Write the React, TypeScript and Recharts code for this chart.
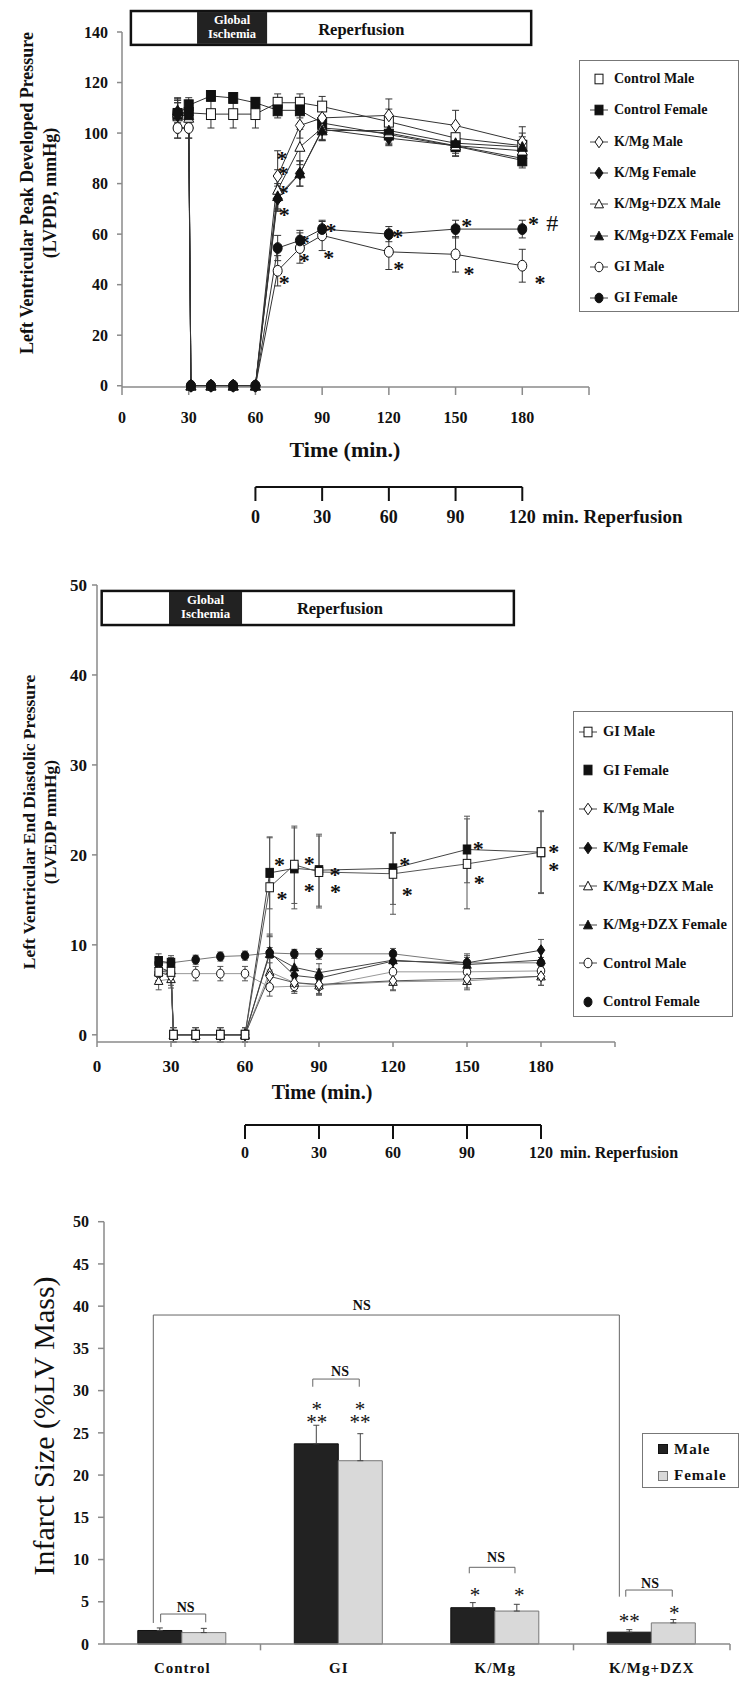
import React from "react";
import {
  ComposedChart,
  Line,
  Bar,
  XAxis,
  YAxis,
  ErrorBar,
  ReferenceArea,
  ReferenceDot,
  ReferenceLine,
} from "recharts";

const SERIF = '"Liberation Serif", "Times New Roman", serif';
const INK = "#111";
const AXIS = "#8a8a8a";

// time points (min.)
const TIME_CONTROL = [25, 30, 40, 50, 60, 70, 80, 90, 120, 150, 180];
const TIME_ISCHEMIA = [25, 30, 31, 40, 50, 60, 70, 80, 90, 120, 150, 180];
const TIME_TICKS = [0, 30, 60, 90, 120, 150, 180, 210];
const REPERFUSION_TICKS = [0, 30, 60, 90, 120];
const REPERFUSION_SPAN = [
  { r: 0, v: 0 },
  { r: 120, v: 0 },
];

// ---- LVPDP (mmHg) ----
const LVPDP_TICKS = [0, 20, 40, 60, 80, 100, 120, 140];
const LVPDP_CONTROL_MALE = [107, 108, 107.5, 107.5, 107.5, 112, 112, 110.5, 104.5, 98, 95];
const LVPDP_CONTROL_MALE_SEM = [6, 5, 5.5, 5.5, 5.5, 3.5, 3.5, 4, 5, 5, 5];
const LVPDP_CONTROL_FEMALE = [107.6, 111, 114.7, 113.9, 112, 109, 109, 104, 99.4, 94.8, 89.2];
const LVPDP_CONTROL_FEMALE_SEM = [6, 3, 2, 2, 2, 3, 3, 3, 4, 4, 3];
const LVPDP_KMG_MALE = [102, 102, 0, 0, 0, 0, 83, 103, 106, 107, 103, 96.5];
const LVPDP_KMG_MALE_SEM = [4, 4, 0.5, 0.5, 0.5, 0.5, 10, 5, 5, 6.5, 6, 6];
const LVPDP_KMG_FEMALE = [107, 107, 0, 0, 0, 0, 74, 84, 101.5, 98, 95, 90];
const LVPDP_KMG_FEMALE_SEM = [5, 5, 0.5, 0.5, 0.5, 0.5, 5, 5, 4, 3, 3, 3];
const LVPDP_DZX_MALE = [108, 106, 0, 0, 0, 0, 77.5, 94.5, 102, 100, 95, 93];
const LVPDP_DZX_MALE_SEM = [5, 5, 0.5, 0.5, 0.5, 0.5, 8, 7, 5, 4, 4, 4];
const LVPDP_DZX_FEMALE = [109, 107, 0, 0, 0, 0, 75, 84, 101, 101, 96, 94.5];
const LVPDP_DZX_FEMALE_SEM = [5, 5, 0.5, 0.5, 0.5, 0.5, 5, 5, 4, 3, 3, 4];
const LVPDP_GI_MALE = [102, 102, 0, 0, 0, 0, 45.5, 54.5, 59.5, 53, 52, 47.5];
const LVPDP_GI_MALE_SEM = [4, 4, 0.5, 0.5, 0.5, 0.5, 6, 6, 6, 7, 7, 6.5];
const LVPDP_GI_FEMALE = [108, 108, 0, 0, 0, 0, 54.5, 57.5, 62, 60, 62, 62];
const LVPDP_GI_FEMALE_SEM = [4, 4, 0.5, 0.5, 0.5, 0.5, 5, 4, 3, 3, 3.5, 3.5];
const LVPDP_MARKS = [
  { t: 72, v: 91, s: "*" }, { t: 72.5, v: 85, s: "*" }, { t: 72.5, v: 77.5, s: "*" },
  { t: 73, v: 69, s: "*" }, { t: 73, v: 42, s: "*" }, { t: 82, v: 58, s: "*" },
  { t: 82, v: 50.5, s: "*" }, { t: 93, v: 52, s: "*" }, { t: 94, v: 62.5, s: "*" },
  { t: 124, v: 60, s: "*" }, { t: 124.5, v: 47.5, s: "*" }, { t: 155, v: 64.5, s: "*" },
  { t: 156, v: 45.5, s: "*" }, { t: 185, v: 65.5, s: "*" }, { t: 193.5, v: 64.5, s: "#" },
  { t: 188, v: 42, s: "*" },
];

// ---- LVEDP (mmHg) ----
const LVEDP_TICKS = [0, 10, 20, 30, 40, 50];
const LVEDP_GI_MALE = [7, 7, 0, 0, 0, 0, 16.4, 18.9, 18.1, 17.9, 19, 20.3];
const LVEDP_GI_MALE_SEM = [1, 1, 0.8, 0.8, 0.8, 0.8, 5.5, 4.3, 4, 4.5, 5, 4.5];
const LVEDP_GI_FEMALE = [8.2, 8, 0, 0, 0, 0, 18, 18.5, 18.3, 18.5, 20.6, 20.3];
const LVEDP_GI_FEMALE_SEM = [0.8, 0.8, 0.8, 0.8, 0.8, 0.8, 4, 4.5, 4, 4, 3.7, 4.6];
const LVEDP_KMG_MALE = [7, 6.5, 0, 0, 0, 0, 6.5, 5.8, 5.6, 6, 6.2, 6.5];
const LVEDP_KMG_MALE_SEM = [1, 1, 0.8, 0.8, 0.8, 0.8, 1.5, 1, 1, 1, 1, 1];
const LVEDP_KMG_FEMALE = [7.5, 7, 0, 0, 0, 0, 9.2, 6.6, 6.3, 8.2, 8, 9.4];
const LVEDP_KMG_FEMALE_SEM = [1, 1, 0.8, 0.8, 0.8, 0.8, 2, 1, 1, 1, 1, 1.2];
const LVEDP_DZX_MALE = [6, 6.2, 0, 0, 0, 0, 7, 5.8, 5.5, 5.9, 6, 6.5];
const LVEDP_DZX_MALE_SEM = [1, 1, 0.8, 0.8, 0.8, 0.8, 1.5, 1, 1, 1, 1, 1];
const LVEDP_DZX_FEMALE = [7, 7.2, 0, 0, 0, 0, 9, 7.5, 6.9, 8.3, 7.8, 8.3];
const LVEDP_DZX_FEMALE_SEM = [1, 1, 0.8, 0.8, 0.8, 0.8, 2, 1, 1, 1, 1, 1];
const LVEDP_CONTROL_MALE = [6.8, 6.8, 6.8, 6.8, 6.8, 5.3, 5.4, 5.4, 7, 7, 7.1];
const LVEDP_CONTROL_MALE_SEM = [0.8, 0.8, 0.8, 0.8, 0.8, 1, 0.8, 1, 1, 1, 0.8];
const LVEDP_CONTROL_FEMALE = [8, 8, 8.35, 8.7, 8.8, 9.1, 9, 9, 9, 8, 8];
const LVEDP_CONTROL_FEMALE_SEM = [0.6, 0.6, 0.5, 0.5, 0.5, 0.6, 0.5, 0.6, 0.6, 0.6, 0.6];
const LVEDP_MARKS = [
  { t: 74, v: 19.3, s: "*" }, { t: 75, v: 15.5, s: "*" }, { t: 86, v: 19.4, s: "*" },
  { t: 86, v: 16.4, s: "*" }, { t: 96.5, v: 18.1, s: "*" }, { t: 96.7, v: 16.3, s: "*" },
  { t: 124.8, v: 19.2, s: "*" }, { t: 125.8, v: 15.9, s: "*" }, { t: 154.6, v: 21, s: "*" },
  { t: 155, v: 17.3, s: "*" }, { t: 185.2, v: 20.7, s: "*" }, { t: 185.2, v: 18.7, s: "*" },
];

// ---- Infarct size (% LV mass) ----
const GROUPS = ["Control", "GI", "K/Mg", "K/Mg+DZX"];
const INFARCT_MALE = [1.6, 23.7, 4.3, 1.4];
const INFARCT_MALE_SEM = [0.3, 2.2, 0.6, 0.3];
const INFARCT_FEMALE = [1.35, 21.7, 3.9, 2.5];
const INFARCT_FEMALE_SEM = [0.5, 3.2, 0.8, 0.4];
const INFARCT_TICKS = [0, 5, 10, 15, 20, 25, 30, 35, 40, 45, 50];
// brackets on a 0..4 group scale
const INFARCT_BRACKETS = [
  { x1: 0.315, x2: 3.293, top: 38.95, left: 2.49, right: 5.6 },
  { x1: 0.362, x2: 0.65, top: 3.55, left: 2.57, right: 2.57 },
  { x1: 1.334, x2: 1.631, top: 31.37, left: 30.46, right: 30.46 },
  { x1: 2.334, x2: 2.626, top: 9.08, left: 8.37, right: 8.37 },
  { x1: 3.334, x2: 3.631, top: 6.39, left: 5.6, right: 5.6 },
];
const INFARCT_NS = [
  { x: 1.647, v: 40.05 }, { x: 0.522, v: 4.3 }, { x: 1.508, v: 32.3 },
  { x: 2.505, v: 10.27 }, { x: 3.489, v: 7.19 },
];
const INFARCT_MARKS = [
  { x: 1.359, v: 28.2, s: "*" }, { x: 1.359, v: 26.6, s: "**" },
  { x: 1.636, v: 28.2, s: "*" }, { x: 1.636, v: 26.6, s: "**" },
  { x: 2.371, v: 6.12, s: "*" }, { x: 2.654, v: 6.12, s: "*" },
  { x: 3.356, v: 3.04, s: "**" }, { x: 3.644, v: 4.03, s: "*" },
];
const INFARCT_GROUP_TICKS = [1, 3, 4];

type Shape = "square" | "diamond" | "triangle" | "circle";

interface SeriesDef {
  name: string;
  t: number[];
  v: number[];
  e: number[];
  shape: Shape;
  filled: boolean;
  legendLine: boolean;
  color: string;
}

const SERIES_A: SeriesDef[] = [
  { name: "Control Male", t: TIME_CONTROL, v: LVPDP_CONTROL_MALE, e: LVPDP_CONTROL_MALE_SEM, shape: "square", filled: false, legendLine: false, color: "#333" },
  { name: "Control Female", t: TIME_CONTROL, v: LVPDP_CONTROL_FEMALE, e: LVPDP_CONTROL_FEMALE_SEM, shape: "square", filled: true, legendLine: true, color: "#333" },
  { name: "K/Mg Male", t: TIME_ISCHEMIA, v: LVPDP_KMG_MALE, e: LVPDP_KMG_MALE_SEM, shape: "diamond", filled: false, legendLine: true, color: "#333" },
  { name: "K/Mg Female", t: TIME_ISCHEMIA, v: LVPDP_KMG_FEMALE, e: LVPDP_KMG_FEMALE_SEM, shape: "diamond", filled: true, legendLine: true, color: "#333" },
  { name: "K/Mg+DZX Male", t: TIME_ISCHEMIA, v: LVPDP_DZX_MALE, e: LVPDP_DZX_MALE_SEM, shape: "triangle", filled: false, legendLine: true, color: "#333" },
  { name: "K/Mg+DZX Female", t: TIME_ISCHEMIA, v: LVPDP_DZX_FEMALE, e: LVPDP_DZX_FEMALE_SEM, shape: "triangle", filled: true, legendLine: true, color: "#333" },
  { name: "GI Male", t: TIME_ISCHEMIA, v: LVPDP_GI_MALE, e: LVPDP_GI_MALE_SEM, shape: "circle", filled: false, legendLine: true, color: "#333" },
  { name: "GI Female", t: TIME_ISCHEMIA, v: LVPDP_GI_FEMALE, e: LVPDP_GI_FEMALE_SEM, shape: "circle", filled: true, legendLine: true, color: "#333" },
];

const SERIES_B: SeriesDef[] = [
  { name: "GI Male", t: TIME_ISCHEMIA, v: LVEDP_GI_MALE, e: LVEDP_GI_MALE_SEM, shape: "square", filled: false, legendLine: true, color: "#555" },
  { name: "GI Female", t: TIME_ISCHEMIA, v: LVEDP_GI_FEMALE, e: LVEDP_GI_FEMALE_SEM, shape: "square", filled: true, legendLine: false, color: "#444" },
  { name: "K/Mg Male", t: TIME_ISCHEMIA, v: LVEDP_KMG_MALE, e: LVEDP_KMG_MALE_SEM, shape: "diamond", filled: false, legendLine: true, color: "#555" },
  { name: "K/Mg Female", t: TIME_ISCHEMIA, v: LVEDP_KMG_FEMALE, e: LVEDP_KMG_FEMALE_SEM, shape: "diamond", filled: true, legendLine: true, color: "#444" },
  { name: "K/Mg+DZX Male", t: TIME_ISCHEMIA, v: LVEDP_DZX_MALE, e: LVEDP_DZX_MALE_SEM, shape: "triangle", filled: false, legendLine: true, color: "#999" },
  { name: "K/Mg+DZX Female", t: TIME_ISCHEMIA, v: LVEDP_DZX_FEMALE, e: LVEDP_DZX_FEMALE_SEM, shape: "triangle", filled: true, legendLine: true, color: "#444" },
  { name: "Control Male", t: TIME_CONTROL, v: LVEDP_CONTROL_MALE, e: LVEDP_CONTROL_MALE_SEM, shape: "circle", filled: false, legendLine: true, color: "#999" },
  { name: "Control Female", t: TIME_CONTROL, v: LVEDP_CONTROL_FEMALE, e: LVEDP_CONTROL_FEMALE_SEM, shape: "circle", filled: true, legendLine: false, color: "#777" },
];

const INFARCT_DATA = GROUPS.map((g, i) => ({
  group: g,
  pos: i + 0.5,
  male: INFARCT_MALE[i],
  maleErr: [0, INFARCT_MALE_SEM[i]],
  female: INFARCT_FEMALE[i],
  femaleErr: [0, INFARCT_FEMALE_SEM[i]],
}));

const points = (s: SeriesDef) => s.t.map((t, i) => ({ t, v: s.v[i], e: s.e[i] }));

function drawMarker(shape: Shape, filled: boolean, s: number, cx: number, cy: number, key?: React.Key) {
  const fill = filled ? INK : "#fff";
  const w = s / 2;
  const h = s * 0.6;
  if (shape === "square")
    return <rect key={key} x={cx - w} y={cy - h} width={s} height={2 * h} fill={fill} stroke={INK} strokeWidth={1} />;
  if (shape === "diamond")
    return (
      <polygon key={key} points={`${cx},${cy - h - 1} ${cx + w},${cy} ${cx},${cy + h + 1} ${cx - w},${cy}`} fill={fill} stroke={INK} strokeWidth={1} />
    );
  if (shape === "triangle")
    return (
      <polygon key={key} points={`${cx},${cy - h} ${cx + w + 0.5},${cy + h * 0.8} ${cx - w - 0.5},${cy + h * 0.8}`} fill={fill} stroke={INK} strokeWidth={1} />
    );
  return <ellipse key={key} cx={cx} cy={cy} rx={w} ry={h} fill={fill} stroke={INK} strokeWidth={1} />;
}

const textMark = (txt: string, fs: number, weight: number) => (p: any) => {
  const shift = txt === "#" ? 0.34 : txt === "NS" ? 0.33 : 0.47;
  return (
    <text x={p.cx} y={p.cy + fs * shift} textAnchor="middle" fontSize={fs} fontWeight={weight} fontFamily={SERIF} fill={INK}>
      {txt}
    </text>
  );
};

const timeTick = (fs: number) => (p: any) => {
  if (p.payload.value === 210) return <g />;
  return (
    <text x={p.x} y={p.y} dy="0.71em" textAnchor="middle" fontSize={fs} fontWeight={700} fontFamily={SERIF} fill={INK}>
      {p.payload.value}
    </text>
  );
};

function Centered({ x, y, size, weight = 700, rotate = false, children }: any) {
  return (
    <div
      style={{
        position: "absolute",
        left: x,
        top: y,
        transform: rotate ? "translate(-50%, -50%) rotate(-90deg)" : "translate(-50%, -50%)",
        whiteSpace: "nowrap",
        fontSize: size,
        fontWeight: weight,
        lineHeight: 1,
        fontFamily: SERIF,
        color: INK,
      }}
    >
      {children}
    </div>
  );
}

interface BannerDef {
  x1: number; x2: number; i1: number; i2: number; y1: number; y2: number;
  labelT: number; labelV: number; fs: number; smallFs: number;
}

function bannerParts(b: BannerDef) {
  return [
    <ReferenceArea
      key="box"
      x1={b.x1} x2={b.x2} y1={b.y1} y2={b.y2}
      ifOverflow="visible"
      shape={(p: any) => <rect x={p.x} y={p.y} width={p.width} height={p.height} fill="#fff" stroke={INK} strokeWidth={2.5} />}
    />,
    <ReferenceArea
      key="isch"
      x1={b.i1} x2={b.i2} y1={b.y1} y2={b.y2}
      ifOverflow="visible"
      shape={(p: any) => (
        <g>
          <rect x={p.x} y={p.y + 1} width={p.width} height={p.height - 2} fill="#222" />
          <text x={p.x + p.width / 2} y={p.y + p.height * 0.24 + b.smallFs * 0.36} textAnchor="middle" fontSize={b.smallFs} fontWeight={700} fontFamily={SERIF} fill="#fff">Global</text>
          <text x={p.x + p.width / 2} y={p.y + p.height * 0.66 + b.smallFs * 0.36} textAnchor="middle" fontSize={b.smallFs} fontWeight={700} fontFamily={SERIF} fill="#fff">Ischemia</text>
        </g>
      )}
    />,
    <ReferenceDot
      key="rep"
      x={b.labelT} y={b.labelV} r={0}
      ifOverflow="visible"
      shape={(p: any) => (
        <text x={p.cx} y={p.cy + b.fs * 0.33} textAnchor="middle" fontSize={b.fs} fontWeight={700} fontFamily={SERIF} fill={INK}>Reperfusion</text>
      )}
    />,
  ];
}

function ReperfusionScale({ top, left, right, fs, labelFs, tickMargin, labelDx, labelDy }: any) {
  return (
    <div style={{ position: "absolute", left: 0, top }}>
      <ComposedChart width={754} height={85} data={REPERFUSION_SPAN} margin={{ top: 0, right, bottom: 0, left }}>
        <XAxis
          dataKey="r" type="number" domain={[-60, 150]} ticks={REPERFUSION_TICKS} interval={0}
          axisLine={false} tickLine={{ stroke: INK, strokeWidth: 2 }} tickSize={14} tickMargin={tickMargin} height={55}
          tick={{ fontSize: fs, fontWeight: 700, fill: INK, fontFamily: SERIF }} allowDataOverflow
        />
        <YAxis hide domain={[0, 1]} width={0} />
        <Line dataKey="v" stroke={INK} strokeWidth={2} dot={false} activeDot={false} isAnimationActive={false} />
        <ReferenceDot
          x={120} y={0} r={0} ifOverflow="visible"
          shape={(p: any) => (
            <text x={p.cx + labelDx} y={p.cy + labelDy} fontSize={labelFs} fontWeight={700} fontFamily={SERIF} fill={INK}>min. Reperfusion</text>
          )}
        />
      </ComposedChart>
    </div>
  );
}

function SeriesLegend({ series, left, top, width, height, first, step, fs, symLeft }: any) {
  return (
    <div style={{ position: "absolute", left, top, width, height, border: "1.5px solid #777", boxSizing: "border-box", fontFamily: SERIF, color: INK }}>
      {series.map((s: SeriesDef, i: number) => (
        <div key={s.name} style={{ position: "absolute", left: symLeft, top: first + i * step - 10, height: 20, display: "flex", alignItems: "center" }}>
          <svg width={26} height={20}>
            {s.legendLine && <line x1={2} x2={20} y1={10} y2={10} stroke="#444" strokeWidth={1} />}
            {drawMarker(s.shape, s.filled, 8, 11, 10)}
          </svg>
          <span style={{ fontSize: fs, fontWeight: 700, whiteSpace: "nowrap" }}>{s.name}</span>
        </div>
      ))}
    </div>
  );
}

function PanelPDP() {
  return (
    <>
      <div style={{ position: "absolute", left: 0, top: 0 }}>
        <ComposedChart width={754} height={475} margin={{ top: 32, right: 165, bottom: 48, left: 60 }}>
          <XAxis
            dataKey="t" type="number" domain={[0, 210]} ticks={TIME_TICKS} interval={0} allowDataOverflow
            stroke={AXIS} strokeWidth={1.5} tickSize={8} tickMargin={17} height={40} tick={timeTick(16)}
          />
          <YAxis
            type="number" domain={[0, 140]} ticks={LVPDP_TICKS} interval={0} width={62}
            stroke={AXIS} strokeWidth={1.5} tickSize={5} tickMargin={9}
            tick={{ fontSize: 16, fontWeight: 700, fill: INK, fontFamily: SERIF }}
          />
          {bannerParts({ x1: 4, x2: 184, i1: 33.75, i2: 65.25, y1: 134.9, y2: 148.3, labelT: 107.6, labelV: 140.8, fs: 16.5, smallFs: 12.5 })}
          {SERIES_A.map((s) => (
            <Line
              key={s.name}
              data={points(s)}
              dataKey="v"
              type="linear"
              stroke={s.color}
              strokeWidth={1}
              dot={(p: any) => drawMarker(s.shape, s.filled, 9, p.cx, p.cy, p.index)}
              activeDot={false}
              isAnimationActive={false}
            >
              <ErrorBar dataKey="e" direction="y" width={3.5} stroke="#333" strokeWidth={1} isAnimationActive={false} />
            </Line>
          ))}
          {LVPDP_MARKS.map((m, i) => (
            <ReferenceDot key={i} x={m.t} y={m.v} r={0} ifOverflow="visible" shape={textMark(m.s, m.s === "#" ? 24 : 22, m.s === "#" ? 400 : 700)} />
          ))}
        </ComposedChart>
      </div>
      <Centered x={27} y={193} size={18} rotate>Left Ventricular Peak Developed Pressure</Centered>
      <Centered x={50} y={193} size={18} rotate>(LVPDP, mmHg)</Centered>
      <Centered x={345} y={450} size={22}>Time (min.)</Centered>
      <SeriesLegend series={SERIES_A} left={579} top={60} width={160} height={252} first={18} step={31.3} fs={14} symLeft={8} />
      <ReperfusionScale top={457} left={122} right={165} fs={18} labelFs={19} tickMargin={9} labelDx={20} labelDy={36} />
    </>
  );
}

function PanelEDP() {
  return (
    <>
      <div style={{ position: "absolute", left: 0, top: 560 }}>
        <ComposedChart width={754} height={540} margin={{ top: 25, right: 139, bottom: 28, left: 40 }}>
          <XAxis
            dataKey="t" type="number" domain={[0, 210]} ticks={TIME_TICKS} interval={0} allowDataOverflow
            stroke={AXIS} strokeWidth={1.5} tickSize={5} tickMargin={13} height={30} tick={timeTick(17)}
          />
          <YAxis
            type="number" domain={[0, 50]} ticks={LVEDP_TICKS} interval={0} width={57}
            stroke={AXIS} strokeWidth={1.5} tickSize={5} tickMargin={5}
            tick={{ fontSize: 17, fontWeight: 700, fill: INK, fontFamily: SERIF }}
          />
          {bannerParts({ x1: 1.9, x2: 169, i1: 29.2, i2: 58.8, y1: 45.55, y2: 49.34, labelT: 98.5, labelV: 47.4, fs: 16.5, smallFs: 12.8 })}
          {[...SERIES_B].reverse().map((s) => (
            <Line
              key={s.name}
              data={points(s)}
              dataKey="v"
              type="linear"
              stroke={s.color}
              strokeWidth={1}
              dot={(p: any) => drawMarker(s.shape, s.filled, 7.5, p.cx, p.cy, p.index)}
              activeDot={false}
              isAnimationActive={false}
            >
              <ErrorBar dataKey="e" direction="y" width={3} stroke="#555" strokeWidth={1} isAnimationActive={false} />
            </Line>
          ))}
          {LVEDP_MARKS.map((m, i) => (
            <ReferenceDot key={i} x={m.t} y={m.v} r={0} ifOverflow="visible" shape={textMark(m.s, 22, 700)} />
          ))}
        </ComposedChart>
      </div>
      <Centered x={30} y={822} size={17.5} rotate>Left Ventricular End Diastolic Pressure</Centered>
      <Centered x={51} y={822} size={17.5} rotate>(LVEDP mmHg)</Centered>
      <Centered x={322} y={1092} size={20}>Time (min.)</Centered>
      <SeriesLegend series={SERIES_B} left={573} top={711} width={160} height={306} first={19.7} step={38.6} fs={14.5} symLeft={3} />
      <ReperfusionScale top={1095} left={97} right={139} fs={16} labelFs={16} tickMargin={8} labelDx={19} labelDy={33} />
    </>
  );
}

const groupTick = (p: any) => (
  <text x={p.x} y={p.y} dy="0.71em" textAnchor="middle" fontSize={15} fontWeight={700} letterSpacing={1} fontFamily={SERIF} fill={INK}>
    {p.payload.value}
  </text>
);

function PanelInfarct() {
  return (
    <>
      <div style={{ position: "absolute", left: 0, top: 1160 }}>
        <ComposedChart
          width={754} height={541} data={INFARCT_DATA}
          margin={{ top: 61.7, right: 24, bottom: 27, left: 60 }}
          barCategoryGap="21.6%" barGap={0}
        >
          <XAxis
            dataKey="group" stroke={AXIS} strokeWidth={1.5} tickLine={false} tickSize={0} tickMargin={18} height={30}
            interval={0} tick={groupTick}
          />
          <XAxis xAxisId="num" dataKey="pos" type="number" domain={[0, 4]} hide allowDataOverflow />
          <YAxis
            type="number" domain={[0, 50]} ticks={INFARCT_TICKS} interval={0} width={44}
            stroke={AXIS} strokeWidth={1.5} tickSize={6} tickMargin={9}
            tick={{ fontSize: 16, fontWeight: 700, fill: INK, fontFamily: SERIF }}
          />
          <Bar dataKey="male" fill="#222" stroke="#111" strokeWidth={1} isAnimationActive={false}>
            <ErrorBar dataKey="maleErr" direction="y" width={3} stroke="#444" strokeWidth={1} isAnimationActive={false} />
          </Bar>
          <Bar dataKey="female" fill="#d9d9d9" stroke="#777" strokeWidth={1} isAnimationActive={false}>
            <ErrorBar dataKey="femaleErr" direction="y" width={3} stroke="#444" strokeWidth={1} isAnimationActive={false} />
          </Bar>
          {INFARCT_GROUP_TICKS.map((g) => (
            <ReferenceLine key={`gt${g}`} xAxisId="num" ifOverflow="visible" stroke={AXIS} strokeWidth={1.5}
              segment={[{ x: g, y: 0 }, { x: g, y: -0.75 }]} />
          ))}
          {INFARCT_BRACKETS.flatMap((b, i) => [
            <ReferenceLine key={`bl${i}`} xAxisId="num" ifOverflow="visible" stroke="#666" strokeWidth={1}
              segment={[{ x: b.x1, y: b.left }, { x: b.x1, y: b.top }]} />,
            <ReferenceLine key={`bt${i}`} xAxisId="num" ifOverflow="visible" stroke="#666" strokeWidth={1}
              segment={[{ x: b.x1, y: b.top }, { x: b.x2, y: b.top }]} />,
            <ReferenceLine key={`br${i}`} xAxisId="num" ifOverflow="visible" stroke="#666" strokeWidth={1}
              segment={[{ x: b.x2, y: b.top }, { x: b.x2, y: b.right }]} />,
          ])}
          {INFARCT_NS.map((n, i) => (
            <ReferenceDot key={`ns${i}`} xAxisId="num" x={n.x} y={n.v} r={0} ifOverflow="visible" shape={textMark("NS", 14, 700)} />
          ))}
          {INFARCT_MARKS.map((m, i) => (
            <ReferenceDot key={`m${i}`} xAxisId="num" x={m.x} y={m.v} r={0} ifOverflow="visible" shape={textMark(m.s, 21, 400)} />
          ))}
        </ComposedChart>
      </div>
      <Centered x={44} y={1426} size={30} weight={400} rotate>Infarct Size (%LV Mass)</Centered>
      <div style={{ position: "absolute", left: 642, top: 1433, width: 97, height: 55, border: "1.5px solid #777", boxSizing: "border-box", fontFamily: SERIF, color: INK }}>
        {[
          { label: "Male", fill: "#222", stroke: "#111", y: 15 },
          { label: "Female", fill: "#d9d9d9", stroke: "#777", y: 41.7 },
        ].map((it) => (
          <div key={it.label} style={{ position: "absolute", left: 15, top: it.y - 10, height: 20, display: "flex", alignItems: "center" }}>
            <div style={{ width: 10, height: 10, background: it.fill, border: `1px solid ${it.stroke}`, boxSizing: "border-box" }} />
            <span style={{ marginLeft: 6, fontSize: 15, fontWeight: 700, letterSpacing: 1 }}>{it.label}</span>
          </div>
        ))}
      </div>
    </>
  );
}

export default function App() {
  return (
    <div style={{ position: "absolute", left: 0, top: 0, width: 754, height: 1701, background: "#fff", overflow: "hidden" }}>
      <PanelPDP />
      <PanelEDP />
      <PanelInfarct />
    </div>
  );
}
